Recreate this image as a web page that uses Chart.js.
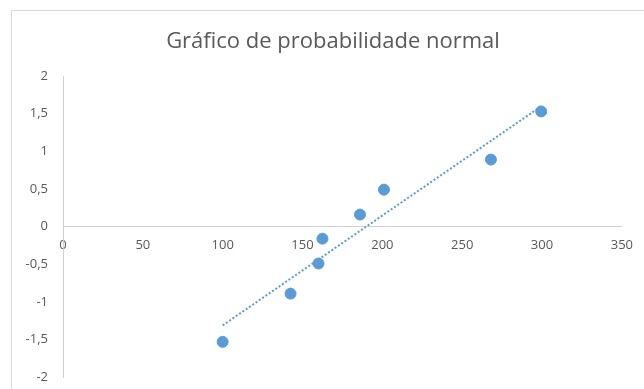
<!DOCTYPE html>
<html>
<head>
<meta charset="utf-8">
<script src="https://cdn.jsdelivr.net/npm/chart.js@4.4.1/dist/chart.umd.min.js"></script>
<style>
  html, body { margin: 0; padding: 0; background: #fff; overflow: hidden; }
  #wrap { position: absolute; left: 0; top: 0; width: 644px; height: 389px; }
  #frame { position: absolute; left: 11px; top: 10px; width: 700px; height: 450px; border: 1px solid #d9d9d9; box-sizing: border-box; }
  canvas { position: absolute; left: 0; top: 0; }
</style>
</head>
<body>
<div id="wrap">
  <div id="frame"></div>
  <canvas id="c" width="644" height="389"></canvas>
</div>
<script>
const chartTitle = 'Gráfico de probabilidade normal';
const xValues = [100, 142.5, 160, 162.5, 186, 201, 268, 299.5];
const zValues = [-1.53, -0.89, -0.49, -0.16, 0.16, 0.49, 0.89, 1.53];
const xTicks = [0, 50, 100, 150, 200, 250, 300, 350];
const yTicks = [-2, -1.5, -1, -0.5, 0, 0.5, 1, 1.5, 2];

const points = xValues.map((x, i) => ({ x: x, y: zValues[i] }));

// linear trendline (least squares) across the data range
const n = xValues.length;
const mx = xValues.reduce((a, b) => a + b, 0) / n;
const my = zValues.reduce((a, b) => a + b, 0) / n;
let sxy = 0, sxx = 0;
for (let i = 0; i < n; i++) { sxy += (xValues[i] - mx) * (zValues[i] - my); sxx += (xValues[i] - mx) ** 2; }
const slope = sxy / sxx, intercept = my - slope * mx;
const xMin = Math.min(...xValues), xMax = Math.max(...xValues);
const trend = [{ x: xMin, y: intercept + slope * xMin }, { x: xMax, y: intercept + slope * xMax }];

const fmt = v => String(v).replace('.', ',');
const tickFont = { family: 'Open Sans', size: 13 };
const grey = '#595959';
const axisGrey = '#d0d0d0';

new Chart(document.getElementById('c'), {
  type: 'scatter',
  data: {
    datasets: [
      {
        type: 'line',
        data: trend,
        borderColor: '#5B9BD5',
        borderWidth: 2,
        borderDash: [2, 2],
        pointRadius: 0,
        fill: false,
        order: 2
      },
      {
        data: points,
        backgroundColor: '#5B9BD5',
        borderColor: '#5B9BD5',
        pointRadius: 5.5,
        pointHoverRadius: 5.5,
        order: 1
      }
    ]
  },
  options: {
    responsive: false,
    animation: false,
    layout: { padding: { left: 22, right: 0, top: 0, bottom: 0 } },
    plugins: {
      legend: { display: false },
      tooltip: { enabled: false },
      title: {
        display: true,
        text: chartTitle,
        color: grey,
        font: { family: 'Open Sans', size: 22, weight: 'normal', lineHeight: 1.2 },
        padding: { top: 29, bottom: 20.6 }
      }
    },
    scales: {
      x: {
        type: 'linear',
        position: { y: 0 },
        min: 0, max: 350,
        afterBuildTicks: s => { s.ticks = xTicks.map(v => ({ value: v })); },
        grid: { display: false, drawTicks: false },
        border: { display: true, color: axisGrey, width: 1 },
        ticks: { color: grey, font: tickFont, padding: 11, autoSkip: false, maxRotation: 0, callback: v => fmt(v) }
      },
      y: {
        type: 'linear',
        position: 'left',
        min: -2, max: 2,
        afterBuildTicks: s => { s.ticks = yTicks.map(v => ({ value: v })); },
        afterFit: s => { s.width = 41; },
        grid: { display: false, drawTicks: true, tickLength: 11, tickColor: 'rgba(0,0,0,0)' },
        border: { display: true, color: axisGrey, width: 1 },
        ticks: { color: grey, font: tickFont, padding: 4, autoSkip: false, callback: v => fmt(v) }
      },
      ySpace: {
        type: 'linear',
        position: 'right',
        display: true,
        afterFit: s => { s.width = 21; },
        grid: { display: false, drawTicks: false },
        border: { display: false },
        ticks: { display: false }
      }
    }
  }
});
</script>
</body>
</html>
